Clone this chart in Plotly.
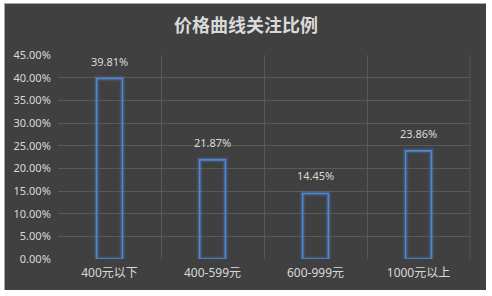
import plotly.graph_objects as go

categories = ["400元以下", "400-599元", "600-999元", "1000元以上"]
values = [39.81, 21.87, 14.45, 23.86]
y_ticks = [0, 5, 10, 15, 20, 25, 30, 35, 40, 45]
y_tick_labels = [f"{v:.2f}%" for v in y_ticks]

W, H = 492, 296
L, R, T, B = 58, 22, 55, 37
pw, ph = W - L - R, H - T - B

def px_x(x):
    return (x - L) / pw

def px_y(y):
    return (H - B - y) / ph

bg = "#404040"
txt = "#d9d9d9"
blue = "#4f87d4"
grid = "#595959"

fig = go.Figure()
# glow
for w, op in [(6, 0.12), (4, 0.2)]:
    fig.add_trace(go.Bar(
        x=categories, y=values, width=0.25,
        marker=dict(color="rgba(0,0,0,0)", line=dict(color=f"rgba(79,135,212,{op})", width=w)),
        hoverinfo="skip", showlegend=False,
    ))
fig.add_trace(go.Bar(
    x=categories, y=values, width=0.25,
    marker=dict(color="rgba(0,0,0,0)", line=dict(color=blue, width=1.6)),
    showlegend=False,
))

for c, v in zip(categories, values):
    fig.add_annotation(x=c, y=v, text=f"{v:.2f}%", showarrow=False,
                       yanchor="bottom", yshift=8,
                       font=dict(family="Noto Sans, Liberation Sans", size=11, color=txt))

shapes = []
# right edge gridline
shapes.append(dict(type="line", xref="paper", yref="paper", x0=1, x1=1, y0=0, y1=1,
                   line=dict(color=grid, width=1), layer="below"))
# white outer frame
shapes.append(dict(type="rect", xref="paper", yref="paper", x0=px_x(0), x1=px_x(4), y0=px_y(296), y1=px_y(0),
                   fillcolor="white", line=dict(width=0), layer="above"))
shapes.append(dict(type="rect", xref="paper", yref="paper", x0=px_x(486), x1=px_x(492), y0=px_y(296), y1=px_y(0),
                   fillcolor="white", line=dict(width=0), layer="above"))
shapes.append(dict(type="rect", xref="paper", yref="paper", x0=px_x(0), x1=px_x(492), y0=px_y(3), y1=px_y(0),
                   fillcolor="white", line=dict(width=0), layer="above"))
shapes.append(dict(type="rect", xref="paper", yref="paper", x0=px_x(0), x1=px_x(492), y0=px_y(296), y1=px_y(290),
                   fillcolor="white", line=dict(width=0), layer="above"))
# light edge lines top / left
shapes.append(dict(type="line", xref="paper", yref="paper", x0=px_x(4), x1=px_x(486), y0=px_y(3.5), y1=px_y(3.5),
                   line=dict(color="#a6a6a6", width=1), layer="above"))
shapes.append(dict(type="line", xref="paper", yref="paper", x0=px_x(4.5), x1=px_x(4.5), y0=px_y(3), y1=px_y(290),
                   line=dict(color="#a6a6a6", width=1), layer="above"))

fig.update_layout(
    width=W, height=H,
    margin=dict(l=L, r=R, t=T, b=B),
    paper_bgcolor=bg, plot_bgcolor=bg,
    barmode="overlay",
    bargap=0.75,
    shapes=shapes,
    title=dict(text="<b>价格曲线关注比例</b>", x=0.5, xref="container", xanchor="center",
               y=1 - 26 / H, yref="container", yanchor="middle",
               font=dict(family="Noto Sans CJK SC", size=18, color=txt)),
    xaxis=dict(type="category", tickson="boundaries", showgrid=True, gridcolor=grid, gridwidth=1,
               showline=False, zeroline=False, ticks="", ticklen=0, ticklabelstandoff=5,
               tickfont=dict(family="Noto Sans, Noto Sans CJK SC", size=12, color=txt),
               range=[-0.5, 3.5], mirror=False),
    yaxis=dict(range=[0, 45], tickvals=y_ticks, ticktext=y_tick_labels, showgrid=True,
               gridcolor=grid, gridwidth=1, zeroline=False, showline=False,
               ticks="outside", ticklen=4, tickcolor="rgba(0,0,0,0)",
               tickfont=dict(family="Noto Sans", size=11, color=txt)),
    font=dict(family="Noto Sans, Noto Sans CJK SC", color=txt),
)

fig.write_html("out.html")
